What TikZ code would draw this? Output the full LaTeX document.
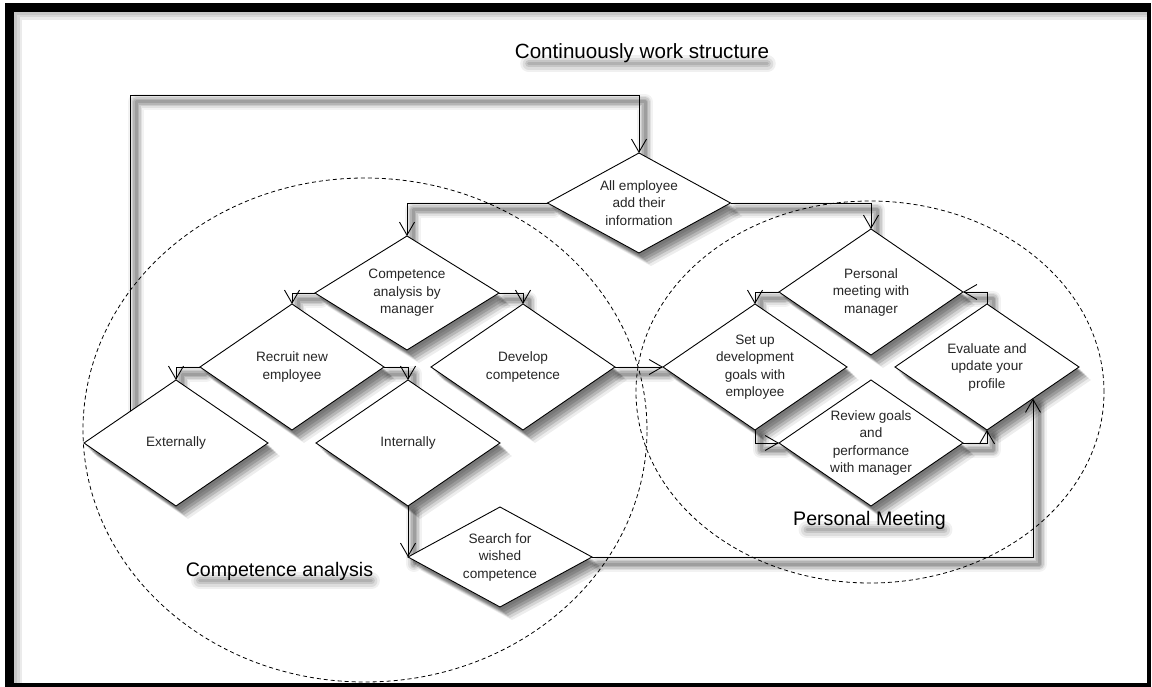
\documentclass[tikz,border=0pt]{standalone}
\usepackage{fontspec}
\setmainfont{Liberation Sans}
\usetikzlibrary{shapes.geometric,arrows.meta,shadows,calc}
\pgfdeclarelayer{back}
\pgfdeclarelayer{bg}
\pgfsetlayers{back,bg,main}
\tikzset{
  sl/.style 2 args={preaction={draw=black, opacity=#1, line width=#2, -, line join=round, line cap=round, transform canvas={shift={(6pt,-7pt)}}}},
  softshadow/.style={sl={0.05}{16pt}, sl={0.07}{12pt}, sl={0.09}{9pt}, sl={0.11}{6pt}, sl={0.12}{3pt}},
  conn/.style={draw=black, line width=0.9pt, softshadow, -{Straight Barb[length=13pt,width=15pt]}},
  ds/.style 2 args={general shadow={fill=black, opacity=#1, shadow xshift=#2, shadow yshift=-#2-1pt}},
  dshadow/.style={ds={0.10}{2pt}, ds={0.13}{4pt}, ds={0.15}{6pt}, ds={0.14}{8pt}, ds={0.10}{10pt}, ds={0.07}{12pt}},
  dia/.style={diamond, draw=black, line width=0.9pt, fill=white, inner sep=0pt, outer sep=0pt,
    minimum width=184pt, minimum height=126pt, shape aspect=1.46, align=center,
    font=\fontsize{13.6}{17.5}\selectfont, text=black!85, dshadow},
  region/.style={ellipse, draw=black, dash pattern=on 4pt off 3pt, line width=0.8pt, inner sep=0pt, outer sep=0pt},
  bigtext/.style={font=\fontsize{19.6}{23}\selectfont, anchor=base, inner sep=0pt},
  smear/.style={draw=black, line cap=round, opacity=#1},
  frameshadow/.style={draw=black, line width=#1, opacity=0.08}
}
\begin{document}
\begin{tikzpicture}[x=1pt, y=-1pt]
\useasboundingbox (0,0) rectangle (1152,687);
\begin{pgfonlayer}{back}
\fill[white] (0,0) rectangle (1152,687);
\end{pgfonlayer}

% diamonds
\node[dia, minimum width=183pt, minimum height=100pt, shape aspect=1.83] (D1) at (639,203) {All employee\\add their\\information};
\node[dia, minimum height=114pt, shape aspect=1.61] (D2) at (407,293) {Competence\\analysis by\\manager};
\node[dia] (D3) at (292,367) {Recruit new\\employee};
\node[dia] (D4) at (523,367) {Develop\\competence};
\node[dia] (D5) at (176,443) {Externally};
\node[dia] (D6) at (408,443) {Internally};
\node[dia, minimum height=100pt, shape aspect=1.84] (D7) at (500,557) {Search for\\wished\\competence};
\node[dia] (D8) at (871,292) {Personal\\meeting with\\manager};
\node[dia] (D9) at (755,367) {Set up\\development\\goals with\\employee};
\node[dia] (D10) at (987,367) {Evaluate and\\update your\\profile};
\node[dia] (D11) at (871,443) {Review goals\\and\\performance\\with manager};

% regions
\begin{pgfonlayer}{back}
\node[region, minimum width=564pt, minimum height=504pt] (E1) at (365,430) {};
\node[region, minimum width=468pt, minimum height=382pt] (E2) at (870,392) {};
\end{pgfonlayer}

% connectors
\begin{pgfonlayer}{bg}
\coordinate (looptop) at (130,95);
\draw[conn] ($(D5.west)!0.5!(D5.north)$) |- (looptop) -| (D1.north);
\draw[conn] (D1.west) -| (D2.north);
\draw[conn] (D1.east) -| (D8.north);
\draw[conn] (D2.west) -| (D3.north);
\draw[conn] (D2.east) -| (D4.north);
\draw[conn] (D3.west) -| (D5.north);
\draw[conn] (D3.east) -| (D6.north);
\draw[conn] (D6.south) -- (D7.west);
\draw[conn] (D4.east) -- (D9.west);
\draw[conn] (D8.west) -| (D9.north);
\draw[conn] (D9.south) |- (D11.west);
\draw[conn] (D11.east) -| (D10.south);
\draw[conn] (D10.north) |- (D8.east);
\draw[conn] (D7.east) -| ($(D10.south)!0.5!(D10.east)$);
\end{pgfonlayer}

% labels
\node[bigtext, font=\fontsize{20.6}{24}\selectfont] (title) at (642,59) {Continuously work structure};
\node[bigtext] (lab1) at (279.5,576) {Competence analysis};
\node[bigtext] (lab2) at (869.5,525) {Personal Meeting};

% text shadows
\begin{pgfonlayer}{bg}
\foreach \n in {title,lab1,lab2}{
  \draw[smear=0.06, line width=17pt] ($(\n.west)+(14,10)$) -- ($(\n.east)+(-2,10)$);
  \draw[smear=0.08, line width=12pt] ($(\n.west)+(14,10)$) -- ($(\n.east)+(-2,10)$);
  \draw[smear=0.10, line width=7pt] ($(\n.west)+(14,10)$) -- ($(\n.east)+(-2,10)$);
  \draw[smear=0.10, line width=3pt] ($(\n.west)+(14,10)$) -- ($(\n.east)+(-2,10)$);
}
\end{pgfonlayer}

% frame
\draw[frameshadow=16pt] (14,683) -- (14,12) -- (1147,12);
\draw[frameshadow=11pt] (14,683) -- (14,12) -- (1147,12);
\draw[frameshadow=6pt] (14,683) -- (14,12) -- (1147,12);
\fill[black] (5,3) rectangle (1151,12);
\fill[black] (5,3) rectangle (14,687);
\fill[black] (1147,3) rectangle (1151,687);
\fill[black] (5,683) rectangle (1151,687);
\end{tikzpicture}
\end{document}
